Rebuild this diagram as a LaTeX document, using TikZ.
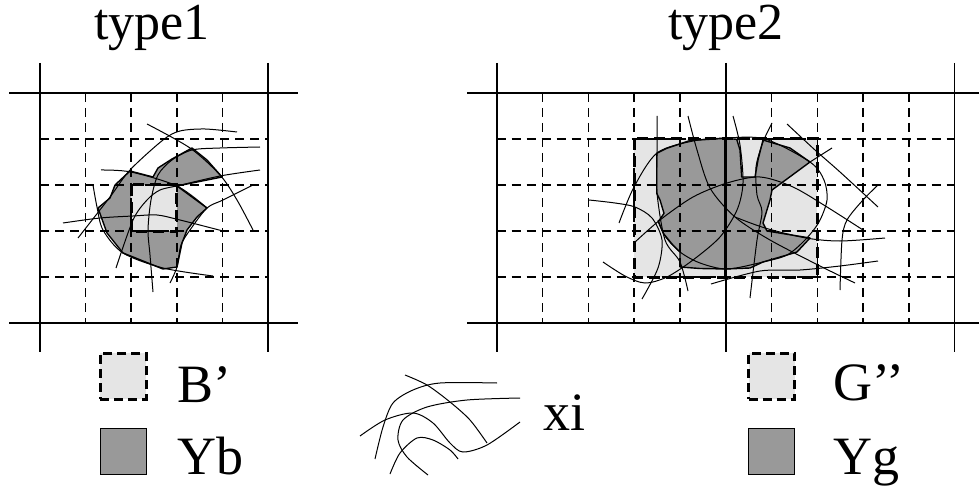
\documentclass[tikz,border=0pt]{standalone}
\usepackage{fontspec}
\setmainfont{Liberation Serif}
\definecolor{dg}{gray}{0.6}
\definecolor{lg}{gray}{0.9}
\begin{document}
\begin{tikzpicture}[x=1pt,y=-1pt,
  solidline/.style={line width=1.6pt},
  gridd/.style={line width=1.6pt, dash pattern=on 9pt off 6pt},
  thinc/.style={line width=1.0pt},
  outl/.style={line width=1.4pt, line join=round},
  bdash/.style={line width=3pt, dash pattern=on 11pt off 6pt},
  lbl/.style={font=\fontsize{54}{60}\selectfont, inner sep=0pt, anchor=base west},
  ttl/.style={font=\fontsize{52}{60}\selectfont, inner sep=0pt, anchor=base},
  lightsq/.style={fill=lg, draw=black, line width=2.6pt, dash pattern=on 9pt off 5pt, minimum size=46pt, inner sep=0pt},
  darksq/.style={fill=dg, draw=black, line width=1.2pt, minimum size=46pt, inner sep=0pt},
]
\useasboundingbox (0,0) rectangle (979,489);

% ---------------- titles ----------------
\node[ttl] (t1) at (152,40) {type1};
\node[ttl] (t2) at (726,40) {type2};

% ---------------- left panel fills ----------------
\fill[dg] (130,171) -- (153,177) -- (158,168) -- (172,159) -- (192,148) -- (207,160) -- (222,177)
  -- (177,186) -- (207,208) -- (197,217) -- (187,230) -- (182,243) -- (177,267) -- (163,269)
  -- (123,253) -- (107,233) -- (98,208) -- (110,198) -- (115,185) -- cycle;
\fill[lg] (131.2,185) rectangle (176.8,231);

% left grid
\foreach \x in {85.6,131.2,176.8,222.4} \draw[gridd] (\x,93) -- (\x,323);
\foreach \y in {139,185,231,277} \draw[gridd] (40,\y) -- (268,\y);
\foreach \x in {40,268} \draw[solidline] (\x,63) -- (\x,352);
\foreach \y in {93,323} \draw[solidline] (9,\y) -- (298,\y);

% left curves
\draw[thinc] plot[smooth,tension=0.5] coordinates {(147,124) (190,148) (220,175) (237,200) (253,230)};
\draw[thinc] plot[smooth,tension=0.5] coordinates {(237,132) (205,129) (180,131) (163,140) (130,170) (110,197) (78,238)};
\draw[thinc] plot[smooth,tension=0.5] coordinates {(260,147) (220,148) (192,150) (172,160) (158,175) (151,200) (148,230) (150,255) (153,292)};
\draw[thinc] plot[smooth,tension=0.5] coordinates {(101,170) (131,172) (177,186) (207,208)};
\draw[thinc] plot[smooth,tension=0.5] coordinates {(253,185) (223,200) (207,208) (190,230) (181,245) (177,267) (170,283)};
\draw[thinc] plot[smooth,tension=0.5] coordinates {(177,186) (220,176) (260,170)};
\draw[thinc] plot[smooth,tension=0.5] coordinates {(63,223) (100,218) (133,216) (157,215) (180,220) (223,231)};
\draw[thinc] plot[smooth,tension=0.5] coordinates {(93,185) (97,207) (103,230) (123,253) (163,268) (213,276)};
\draw[thinc] plot[smooth,tension=0.5] coordinates {(177,186) (160,190) (147,200) (133,220) (116,268)};

% left outlines
\draw[outl] (130,171) -- (153,177) -- (158,168) -- (172,159) -- (192,148) -- (207,160) -- (222,177)
  -- (177,186) -- (207,208) -- (197,217) -- (187,230) -- (182,243) -- (177,267) -- (163,269)
  -- (123,253) -- (107,233) -- (98,208) -- (110,198) -- (115,185) -- cycle;
\draw[bdash] (131.2,185) rectangle (176.8,231);

% ---------------- right panel fills ----------------
\fill[lg] (634,139) rectangle (817.3,277);
\fill[dg] (666.7,148.3) -- (690,140.5) -- (725.7,138.3) -- (736.7,139.3) -- (740,150) -- (741.7,177)
  -- (755,177) -- (758,160) -- (763,140) -- (790,148) -- (810,162) -- (772,190) -- (770,200)
  -- (763,223) -- (767,231) -- (810,238) -- (797,252) -- (787,255) -- (763,262) -- (750,268)
  -- (726,269) -- (700,268.5) -- (680,267) -- (680,252) -- (672,244) -- (663.3,233.3)
  -- (658.3,221.7) -- (664,213.3) -- (660,200) -- (656.7,193.3) -- (656.7,153.3) -- cycle;

% right grid
\foreach \x in {542.5,588.3,634,680,771.5,817.3,863,909} \draw[gridd] (\x,93) -- (\x,323);
\foreach \y in {139,185,231,277} \draw[gridd] (496.7,\y) -- (954.3,\y);
\foreach \x in {496.7,725.7,954.3} \draw[solidline] (\x,63) -- (\x,352);
\foreach \y in {93,323} \draw[solidline] (467,\y) -- (979,\y);

% right curves
\draw[thinc] plot[smooth,tension=0.5] coordinates {(657,116) (657,155) (657,193) (665,240) (680,262) (688,291)};
\draw[thinc] plot[smooth,tension=0.5] coordinates {(688,116) (697,150) (710,188) (735,217) (770,240) (820,266) (855,283)};
\draw[thinc] plot[smooth,tension=0.5] coordinates {(735,217) (765,228) (806,238) (840,241) (885,238)};
\draw[thinc] plot[smooth,tension=0.5] coordinates {(733,116) (740,145) (743,183) (737,210) (720,237) (693,260) (667,277) (645,283) (625,276) (603,262)};
\draw[thinc] plot[smooth,tension=0.5] coordinates {(589,200) (615,203) (635,207) (652,218) (662,240) (658,268) (642,299)};
\draw[thinc] plot[smooth,tension=0.5] coordinates {(634,243) (660,220) (693,197) (727,183) (760,177) (793,187) (827,207) (863,230)};
\draw[thinc] plot[smooth,tension=0.5] coordinates {(619,223) (634,187) (657,153) (693,141) (726,138) (765,139) (810,162) (824,180) (827,200) (819,222) (805,240) (787,255) (763,262) (727,269) (700,263) (680,252) (665,236) (658,220)};
\draw[thinc] plot[smooth,tension=0.5] coordinates {(711,284) (760,271) (800,270) (840,266) (878,261)};
\draw[thinc] plot[smooth,tension=0.5] coordinates {(772,123) (763,142) (756,167) (757,195) (762,212) (757,240) (750,298)};
\draw[thinc] plot[smooth,tension=0.5] coordinates {(787,124) (815,150) (840,172) (878,207)};
\draw[thinc] (832,148) -- (810,162);
\draw[thinc] plot[smooth,tension=0.5] coordinates {(878,185) (863,200) (847,220) (842,240) (840,290)};

% right outlines
\draw[outl] (666.7,148.3) -- (690,140.5) -- (725.7,138.3) -- (736.7,139.3) -- (740,150) -- (741.7,177)
  -- (755,177) -- (758,160) -- (763,140) -- (790,148) -- (810,162) -- (772,190) -- (770,200)
  -- (763,223) -- (767,231) -- (810,238) -- (797,252) -- (787,255) -- (763,262) -- (750,268)
  -- (726,269) -- (700,268.5) -- (680,267) -- (680,252) -- (672,244) -- (663.3,233.3)
  -- (658.3,221.7) -- (664,213.3) -- (660,200) -- (656.7,193.3) -- (656.7,153.3) -- cycle;
\draw[bdash] (634,139) rectangle (817.3,277);
\draw[line width=2.8pt] (725.7,139) -- (725.7,277);

% ---------------- legend ----------------
\node[lightsq] (sqb) at (123.3,376.3) {};
\node[darksq] (sqyb) at (123.3,451.7) {};
\node[lbl] (lb) at (177,402) {B’};
\node[lbl] (lyb) at (177,474) {Yb};

\node[lightsq] (sqg) at (771.7,376.3) {};
\node[darksq] (sqyg) at (771.7,451.7) {};
\node[lbl] (lg) at (833,400) {G’’};
\node[lbl] (lyg) at (833,474) {Yg};

\draw[thinc] plot[smooth,tension=0.5] coordinates {(405,375) (427,385) (450,402) (470,420) (487,443)};
\draw[thinc] plot[smooth,tension=0.5] coordinates {(360,436) (385,420) (413,413) (433,423) (450,443) (463,452) (487,445) (520,422)};
\draw[thinc] plot[smooth,tension=0.5] coordinates {(375,459) (383,427) (393,403) (413,390) (440,383) (497,383)};
\draw[thinc] plot[smooth,tension=0.5] coordinates {(428,475) (407,457) (398,440) (403,420) (427,407) (467,400) (520,398)};
\draw[thinc] plot[smooth,tension=0.5] coordinates {(390,474) (400,453) (417,438) (433,440) (450,450) (458,459)};
\node[lbl] (lx) at (543,430) {xi};
\end{tikzpicture}
\end{document}
